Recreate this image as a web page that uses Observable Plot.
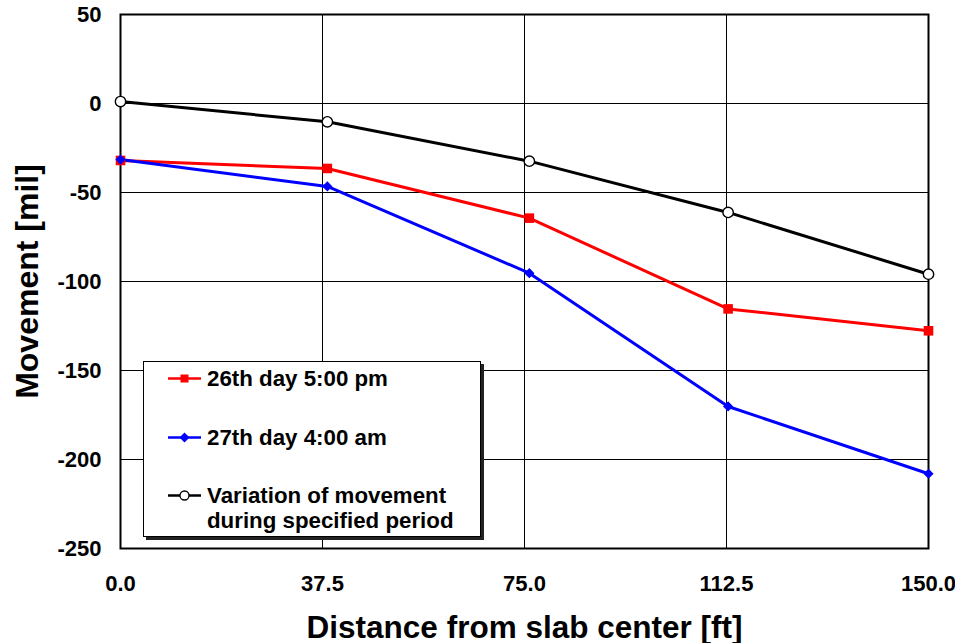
<!DOCTYPE html>
<html>
<head>
<meta charset="utf-8">
<script src="https://cdn.jsdelivr.net/npm/d3@7"></script>
<script src="https://cdn.jsdelivr.net/npm/@observablehq/plot@0.6"></script>
<style>
  html, body { margin: 0; padding: 0; background: #fff; }
  #wrap { position: relative; width: 955px; height: 643px; font-family: "Liberation Sans", Arial, sans-serif; }
  #wrap svg text { font-weight: bold; fill: #000; }
  #legend { position: absolute; left: 143px; top: 361px; width: 336px; height: 174px; border: 1.5px solid #000; background: #fff; box-shadow: 3px 3px 0 #222; font-weight: bold; font-size: 22.3px; color: #000; }
  .row { position: absolute; left: 24px; display: flex; align-items: flex-start; }
  .row svg { flex: none; margin-right: 6px; }
  .row span { line-height: 25px; white-space: nowrap; }
</style>
</head>
<body>
<div id="wrap"></div>
<script>
const distance = [0, 38.4, 75.9, 112.8, 150];
const series26pm = [-32, -36.5, -64.4, -115.4, -127.7];
const series27am = [-31.5, -46.6, -95.3, -170.2, -208];
const variation = [1.1, -10.3, -32.4, -61.2, -95.9];
const seriesNames = ["26th day 5:00 pm", "27th day 4:00 am", "Variation of movement\nduring specified period"];
const xTicks = [0, 37.5, 75, 112.5, 150];
const yTicks = [50, 0, -50, -100, -150, -200, -250];
const xTitle = "Distance from slab center [ft]";
const yTitle = "Movement [mil]";

const rows = [];
distance.forEach((d, i) => {
  rows.push({x: d, y: series26pm[i], s: seriesNames[0]});
  rows.push({x: d, y: series27am[i], s: seriesNames[1]});
  rows.push({x: d, y: variation[i], s: seriesNames[2]});
});
const ofS = name => rows.filter(r => r.s === name);

const font = "'Liberation Sans', Arial, sans-serif";

const chart = Plot.plot({
  width: 955,
  height: 643,
  marginLeft: 120,
  marginRight: 27,
  marginTop: 14,
  marginBottom: 95,
  style: { fontFamily: font, background: "#fff", overflow: "visible" },
  x: { domain: [0, 150] },
  y: { domain: [-250, 50] },
  marks: [
    Plot.gridX(xTicks, { stroke: "#000", strokeOpacity: 1, strokeWidth: 1 }),
    Plot.gridY(yTicks, { stroke: "#000", strokeOpacity: 1, strokeWidth: 1 }),
    Plot.axisX(xTicks, { tickSize: 0, tickPadding: 27, tickFormat: d3.format(".1f"), fontSize: 22, fontWeight: "bold", label: null }),
    Plot.axisY(yTicks, { tickSize: 0, tickPadding: 19, tickFormat: d => String(d), fontSize: 22, fontWeight: "bold", label: null }),
    Plot.text([xTitle], { frameAnchor: "bottom", dy: 79, textAnchor: "middle", lineAnchor: "middle", fontSize: 31.5, fontWeight: "bold", fill: "#000" }),
    Plot.text([yTitle], { frameAnchor: "left", dx: -93, rotate: -90, textAnchor: "middle", lineAnchor: "middle", fontSize: 32, fontWeight: "bold", fill: "#000" }),
    Plot.frame({ stroke: "#000", strokeWidth: 2 }),
    Plot.line(ofS(seriesNames[2]), { x: "x", y: "y", stroke: "#000", strokeWidth: 3 }),
    Plot.line(ofS(seriesNames[0]), { x: "x", y: "y", stroke: "#ff0000", strokeWidth: 3 }),
    Plot.line(ofS(seriesNames[1]), { x: "x", y: "y", stroke: "#0000ff", strokeWidth: 3 }),
    Plot.dot(ofS(seriesNames[0]), { x: "x", y: "y", symbol: "square", r: 5.4, fill: "#ff0000", stroke: "none" }),
    Plot.dot(ofS(seriesNames[1]), { x: "x", y: "y", symbol: "diamond2", r: 4.6, fill: "#0000ff", stroke: "none" }),
    Plot.dot(ofS(seriesNames[2]), { x: "x", y: "y", symbol: "circle", r: 5.2, fill: "#fff", stroke: "#000", strokeWidth: 1.4 })
  ]
});

const wrap = document.getElementById("wrap");
wrap.appendChild(chart);

// Legend
const legend = document.createElement("div");
legend.id = "legend";
const legendItems = [
  { name: seriesNames[0], color: "#ff0000", sym: "square", top: 4 },
  { name: seriesNames[1], color: "#0000ff", sym: "diamond", top: 63 },
  { name: seriesNames[2], color: "#000", sym: "circle", top: 121 }
];
legendItems.forEach(it => {
  const row = document.createElement("div");
  row.className = "row";
  row.style.top = it.top + "px";
  let m = "";
  if (it.sym === "square") m = `<rect x="12.5" y="8.5" width="8" height="8" fill="${it.color}"/>`;
  if (it.sym === "diamond") m = `<path d="M16.5,7.5 L21.5,12.5 L16.5,17.5 L11.5,12.5 Z" fill="${it.color}"/>`;
  if (it.sym === "circle") m = `<circle cx="16.5" cy="12.5" r="4.5" fill="#fff" stroke="#000" stroke-width="1.3"/>`;
  row.innerHTML = `<svg width="33" height="25"><line x1="0" y1="12.5" x2="33" y2="12.5" stroke="${it.color}" stroke-width="2.6"/>${m}</svg><span>${it.name.replace("\n", "<br>")}</span>`;
  legend.appendChild(row);
});
wrap.appendChild(legend);
</script>
</body>
</html>
